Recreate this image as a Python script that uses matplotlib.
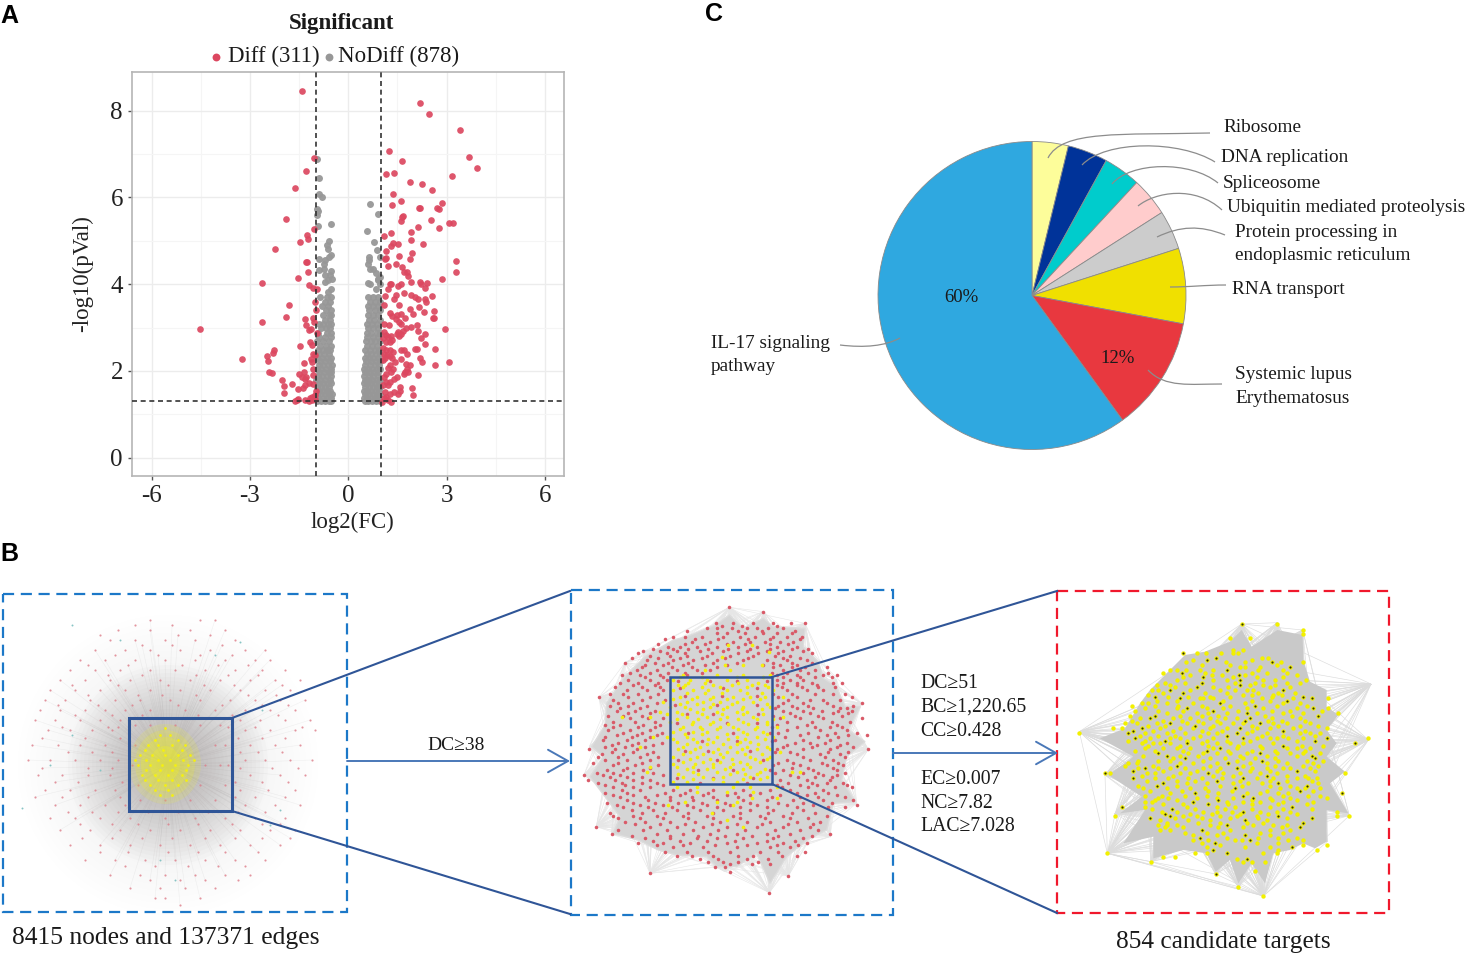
import numpy as np
import matplotlib
matplotlib.use("Agg")
import matplotlib.pyplot as plt
from matplotlib.collections import LineCollection
from matplotlib.patches import Polygon, PathPatch, Rectangle, Circle, Ellipse
from matplotlib.path import Path

plt.rcParams['font.family'] = ['Liberation Serif', 'DejaVu Serif']
plt.rcParams['axes.unicode_minus'] = False

# ---------- A: volcano ----------
RED_LEFT = [(-1.40,8.46),(-1.05,6.91),(-1.30,6.60),(-1.64,6.22),(-1.90,5.51),(-1.06,5.27),(-1.25,5.14),(-1.22,5.05),(-1.48,4.98),(-2.24,4.80),
(-1.28,4.51),(-1.25,4.51),(-1.23,4.28),(-1.54,4.15),(-2.64,4.02),(-1.20,3.98),(-1.07,3.92),(-0.97,3.88),(-1.01,3.59),(-1.82,3.53),(-0.99,3.40),(-1.89,3.25),
(-1.31,3.20),(-2.63,3.13),(-1.08,3.23),(-1.05,3.13),(-1.30,3.05),(-1.21,2.94),(-1.15,2.96),(-4.54,2.97),(-0.97,2.87),(-1.18,2.66),(-1.11,2.60),
(-1.47,2.57),(-2.27,2.48),(-2.29,2.41),(-2.49,2.35),(-3.25,2.27),(-2.45,2.22),(-1.08,2.39),(-1.01,2.37),(-1.13,2.28),(-1.11,2.21),(-1.35,2.18),
(-2.43,1.98),(-2.33,1.95),(-1.08,2.04),(-1.35,1.97),(-1.52,1.92),(-1.09,1.91),(-1.28,1.87),(-1.42,1.86),(-1.33,1.82),(-2.03,1.79),(-1.72,1.70),
(-1.96,1.66),(-1.21,1.72),(-1.33,1.68),(-1.08,1.70),(-1.37,1.60),(-1.54,1.58),(-1.96,1.49),(-0.98,1.55),(-1.01,1.45),(-1.11,1.41),(-1.54,1.36),
(-1.58,1.32),(-1.33,1.33),(-1.21,1.30),(-1.11,1.32),(-1.01,1.35),(-1.62,1.31),(-1.17,1.38)]
RED_RIGHT_TOP = [(2.20,8.17),(2.47,7.92),(3.41,7.56),(1.23,7.07),(3.67,6.94),(1.63,6.84),(3.92,6.68),(1.16,6.54),(1.39,6.57),(3.17,6.49),(1.89,6.35),
(2.24,6.31),(2.55,6.17),(1.37,6.08),(1.60,5.92),(2.86,5.86),(1.33,5.82),(2.15,5.75),(2.20,5.75),(2.70,5.75),(2.76,5.73),(1.68,5.58),(1.64,5.54),
(1.60,5.46),(2.53,5.47),(3.07,5.40),(3.20,5.40),(2.14,5.32),(2.77,5.30),(1.30,5.18),(1.91,5.20),(1.10,5.10),(1.92,5.03),(1.37,4.94),(1.30,4.87),
(1.53,4.93),(2.29,4.93),(1.14,4.76),(1.93,4.73),(1.54,4.64),(1.16,4.61),(1.12,4.57),(1.87,4.58),(3.28,4.54),(1.45,4.46),(1.21,4.41),(1.65,4.39),
(1.80,4.28),(1.70,4.28),(1.82,4.19),(3.28,4.28),(2.86,4.11)]
RED_RIGHT_LOW = [(1.92,4.04),(2.18,4.04),(2.23,4.00),(2.40,4.03),(2.35,3.91),(1.26,4.01),(1.31,4.00),(1.62,4.00),(1.52,3.95),(1.21,3.88),(1.69,3.80),
(1.92,3.75),(2.03,3.71),(2.13,3.65),(1.45,3.75),(1.38,3.67),(2.54,3.72),(2.33,3.67),(2.38,3.59),(1.11,3.72),(1.08,3.52),(1.55,3.52),(2.16,3.48),
(1.87,3.42),(1.97,3.32),(2.31,3.36),(2.60,3.38),(2.58,3.23),(2.61,3.23),(1.28,3.34),(1.34,3.26),(1.47,3.29),(1.62,3.32),(1.72,3.23),(1.45,3.19),
(1.55,3.13),(1.62,3.09),(1.24,3.06),(1.08,3.09),(2.08,3.06),(1.92,3.02),(1.77,2.98),(2.14,2.93),(2.95,2.96),(2.33,2.86),(1.52,2.90),(1.62,2.86),
(1.67,2.92),(1.08,2.90),(1.14,2.83),(1.21,2.79),(1.31,2.80),(1.06,2.75),(1.55,2.80),(1.47,2.86),(2.21,2.75),(1.34,2.71),(1.14,2.67),(1.26,2.67),
(2.35,2.62),(2.04,2.50),(2.11,2.50),(2.65,2.50),(1.62,2.48),(1.70,2.48),(1.06,2.52),(1.14,2.48),(1.26,2.48),(1.36,2.44),(1.79,2.39),(1.09,2.40),
(1.18,2.37),(1.26,2.34),(1.11,2.31),(1.34,2.31),(1.06,2.25),(1.62,2.27),(2.18,2.31),(2.25,2.21),(3.08,2.21),(1.43,2.21),(1.77,2.17),(1.87,2.14),
(2.64,2.14),(1.26,2.14),(1.21,2.06),(1.79,2.05),(1.72,1.98),(1.82,1.98),(1.36,2.04),(1.29,1.98),(1.69,1.92),(2.12,1.90),(1.16,1.93),(1.08,1.87),
(1.49,1.85),(1.38,1.81),(1.26,1.75),(1.14,1.75),(1.06,1.68),(1.21,1.68),(1.57,1.64),(1.57,1.55),(1.95,1.60),(1.96,1.45),(1.38,1.52),(1.28,1.47),
(1.11,1.52),(1.16,1.41),(1.52,1.47),(1.08,1.37),(1.31,1.29),(1.21,1.33),(1.04,1.29)]
GREY_TOP = [(-0.97,6.88),(-0.90,6.45),(-0.91,6.08),(-0.80,6.02),(-0.95,5.74),(-0.92,5.68),(-0.95,5.59),(-0.93,5.34),(-0.52,5.39),(-0.59,4.99),(-0.64,4.90),
(-0.62,4.80),(-0.52,4.68),(-0.60,4.63),(-0.70,4.55),(-0.91,4.57),(-0.74,4.46),(-0.89,4.32),(-0.74,4.34),(-0.54,4.31),(-0.72,4.21),(-0.57,4.21),
(-0.50,4.13),(-0.70,4.05),(-0.62,4.09),(-0.52,3.88),(-0.62,3.82),(0.65,5.85),(0.91,5.61),(0.58,5.23),(0.78,4.97),(0.89,4.78),(0.98,4.63),(0.63,4.63),
(0.63,4.55),(0.61,4.46),(0.67,4.36),(0.75,4.36),(0.83,4.26),(0.98,4.17),(0.91,4.11),(0.60,4.03),(0.67,4.00),(0.90,4.09),(0.96,4.00),(0.85,3.90)]
GREY_ROWS_Y = [1.30,1.38,1.46,1.55,1.63,1.72,1.80,1.88,1.97,2.05,2.14,2.22,2.30,2.40,2.48,2.58,2.68,2.78,2.88,2.98,3.08,3.18,3.28,3.40,3.50,3.60,3.70]
GREY_ROWS_LEFT = [[-.95,-.82,-.70,-.58,-.52],[-.92,-.78,-.64,-.54],[-.97,-.85,-.72,-.60,-.51],[-.90,-.76,-.66,-.55],[-.96,-.84,-.70,-.58],[-.91,-.78,-.62,-.52],
[-.98,-.86,-.72,-.57],[-.93,-.80,-.66,-.53],[-.88,-.74,-.60,-.52],[-.96,-.82,-.68,-.54],[-.91,-.76,-.62,-.51],[-.85,-.70,-.56],[-.95,-.80,-.65,-.52],[-.88,-.74,-.60],
[-.93,-.78,-.65,-.55],[-.85,-.68,-.52],[-.96,-.76,-.60],[-.88,-.70,-.54],[-.94,-.64,-.52],[-.82,-.68,-.56],[-.88,-.78,-.62,-.52],[-.70,-.56],[-.76,-.60,-.52],[-.68,-.54],
[-.80,-.62],[-.72,-.56],[-.85,-.66,-.52]]
GREY_ROWS_RIGHT = [[.50,.60,.72,.85,.96],[.47,.56,.68,.80,.92],[.52,.64,.76,.88,.98],[.48,.58,.70,.84,.95],[.50,.62,.74,.86,.97],[.47,.57,.69,.82,.93],
[.50,.60,.73,.87,.98],[.48,.62,.75,.90],[.52,.64,.78,.92],[.48,.60,.72,.86,.98],[.50,.66,.80,.94],[.54,.68,.84,.96],[.50,.62,.76,.90],[.56,.70,.85,.98],
[.52,.66,.80,.94],[.56,.72,.88],[.54,.68,.82,.97],[.58,.74,.90],[.56,.70,.86,.98],[.60,.76,.92],[.58,.72,.88],[.62,.78,.96],[.60,.74,.90],[.64,.80,.97],
[.60,.76,.92],[.66,.82,.98],[.60,.75,.90]]

# ---------- C: pie ----------
PIE_NAMES = ["Ribosome","DNA replication","Spliceosome","Ubiquitin mediated proteolysis",
             "Protein processing in endoplasmic reticulum","RNA transport","Systemic lupus Erythematosus","IL-17 signaling pathway"]
PIE_VALUES = [3.8,4.2,3.9,4.05,4.1,7.9,12.05,60.0]
PIE_COLORS = ['#fdfd9a','#003399','#00cccc','#ffcccc','#cccccc','#f0e000','#e8383f','#2fa8e0']

# ---------- B: networks, node positions read per row ----------
NET1_RED_Y = [620,630,640,650,660,670,680,690,700,710,720,725,730,745,745,760,765,775,785,790,800,805,818,830,845,860,875,888,898,
              625,635,645,655,665,675,685,695,705,715,727,738,752,768,782,797,812,824,838,852,866,880,905]
NET1_RED_X = [[150,200,215],[118,150,190,225],[110,135,165,195,235],[95,125,150,180,210,245,265],[80,105,135,165,195,225,255,270],
[70,95,120,150,175,205,235,262,285],[60,85,110,130,160,190,220,250,275,300],[50,75,100,125,150,180,210,240,265,290],
[45,65,90,115,140,170,200,230,255,280,305],[40,60,85,105,125,150,185,215,245,270,295],[35,55,80,100,120,240,260,285,310],[135,150,175,200,220],
[48,70,92,112,245,270,295,315],[32,58,80,105,250,275,300],[135,215,225],[28,50,75,100,118,245,265,290,312],[132,205,220,228],[38,62,88,110,250,280,305],
[138,200,225],[45,70,95,115,240,268,295],[140,165,190,215],[55,80,105,125,245,275,300],[50,75,100,130,165,195,225,255,285],
[60,90,120,150,180,210,240,270,295],[70,100,130,160,190,220,250,280],[85,115,145,175,205,235,265],[110,140,165,195,225,250],[130,160,185,215],[155,165,200],
[135,172],[100,178,210],[142,172,222],[115,158,200,232],[88,128,182,218,248],[108,142,196,228,258],[72,118,168,204,234,282],[88,138,162,196,248,276],
[58,98,132,178,222,262,288],[75,112,142,198,232,278],[62,108,118,228,255,302],[42,85,120,238,262,285],[68,92,112,240,258,282],[42,88,112,240,272,298],
[55,78,122,235,262,288],[35,62,88,120,235,255,285],[68,92,118,148,178,208,238,265],[80,112,138,168,198,232,262,280],[82,112,142,172,205,235,262,290],
[100,128,168,198,225,258],[125,155,188,218,245],[150,180,205,238],[180]]
NET1_YEL_Y = [728,735,745,755,765,775,785,795,740,750,760,770,780,790]
NET1_YEL_X = [[165],[160,170],[148,158,172,185],[140,152,165,178,190],[138,150,162,175,188],[142,155,168,182],[150,165,178],[160,172],
              [155,178],[145,163,182],[135,146,158,170,183,194],[146,160,172,186],[145,158,172,186],[155,168]]
NET1_TEAL = [(22,808),(72,735),(50,765),(280,810),(72,625),(120,640),(240,642),(175,880),(160,860),(100,770),(262,710),(270,825),(215,655)]

NET2_RED_Y = [52,65,100,115,130,140,155,170,183,197,210,225,240,255,270,285,300,322,340,355,370,385,405,420,435,450,465,478,492,510,525,540,555,570,585,600,615,630,645,660,677,695,710,733,745,760,772,798,815,830,845,850,858,908,
              108,122,148,162,177,190,204,218,232,248,262,278,292,312,330,348,362,378,395,412,428,442,458,472,485,500,518,533,548,562,578,592,608,622,638,652,668,685,702,720,738,753,766,785,808,822,
              272,295,318,345,372,398,428,452,482,510,540,565,578]
NET2_RED_X = [[478],[580],[437,490,548,608,705,662],[410,440,485,530,560,595,640],[440,470,525,580,620,665],[310,345,395,460,510,555,610,650,695],
[365,420,490,540,585,630,670],[295,330,380,440,505,560,620,680],[220,270,320,390,460,530,590,640,700],[240,300,350,410,480,550,615,660],
[230,310,370,440,520,590,650,710],[225,280,340,405,470,580,630,680],[200,260,320,380,420,640,690,735],[155,210,270,350,620,680,760,800],
[175,240,290,620,660,700],[190,255,620,680,740],[170,230,280,650,710,760],[87,175,240,625,680,845],[145,190,260,640,700,770,875],
[150,210,615,680,730,810,830],[175,240,660,720,790,835],[180,235,280,630,690,760,875],[105,150,220,270,620,710,800],[115,180,240,650,750,830],
[140,200,260,690,770,835,890],[100,170,225,615,700,780],[125,185,250,650,740,810],[58,135,200,620,700,780,895],[95,160,230,680,750,810],
[105,170,240,650,720,790],[130,195,265,610,690,770,820],[110,160,220,640,730,800],[42,100,150,280,660,760,800],[55,135,190,240,630,710,780],
[105,165,280,620,690,740,830],[155,210,310,360,430,520,600,660,760],[130,190,260,330,400,470,540,630,710,800],[170,235,300,370,440,520,590,670,760,850],
[140,210,280,350,410,480,560,650,730,860],[185,250,320,390,460,540,610,700],[130,190,260,340,410,490,570,640,770],[165,225,300,375,450,530,600,680,750],
[79,240,320,400,470,560,640,720],[125,260,340,420,500,590,660,780],[225,300,380,440,520,610,700],[205,280,360,470,560,640,710],[310,400,500,600,660],
[320,365,430,505,550,635,680],[415,460,505,565],[435,465],[480],[240],[655],[598],
[455,515,620],[350,505,575,675],[285,375,445,535,600,690],[265,345,405,470,525,600,655],[250,310,355,415,475,540,600,665,715],[205,290,345,425,505,565,625,725],
[185,265,330,395,465,535,640,690],[165,255,295,355,430,500,610,665,725],[215,305,365,440,610,665,705,770],[180,240,295,345,395,605,650,715,775],
[225,280,640,690,735,785],[150,205,265,640,680,725,790,815],[135,215,270,635,695,745,795],[120,160,205,265,610,665,735,790,825],[130,215,285,655,720,760,810],
[120,175,230,625,665,715,790,850],[140,195,255,640,700,755,805,845],[115,160,215,610,675,745,815],[130,195,255,650,725,785,840],[130,205,255,605,680,735,780,815],
[160,215,275,625,715,795,860],[105,185,240,645,745,805],[145,205,275,675,720,765,830],[105,165,225,640,725,800,850],[125,190,250,615,660,775,835],
[85,145,210,265,700,765,825],[70,145,215,625,670,755,805],[170,240,665,715,790],[80,130,190,250,615,700,745,825],[120,170,215,685,735,785],
[85,155,215,260,655,725,770,820],[130,190,240,635,715,795,845],[105,170,285,345,415,495,570,680,735,775],[150,225,300,365,430,505,605,690,745,825],
[110,190,255,325,395,465,540,625,700,785],[160,235,305,370,440,510,590,680,775,825],[120,215,285,355,430,510,595,665,735],[145,210,280,355,430,510,585,660,715],
[195,270,345,425,500,575,655,730],[145,220,290,370,445,525,615,690,745],[185,300,385,465,545,625,725],[250,330,410,495,590,675],[260,340,435,530,620,685],
[285,350,415,480,570,625,705],[390,445,530,595],[480,545,600],
[325,420,500,590],[330,460,560],[345,455,560],[315,440,560],[350,430,565],[320,470,560],[355,490,600],[395,500,605],[345,415,540],[325,440,580],[385,490,600],[320,430,550],[390,530]]
NET2_YEL_Y = [165,185,200,225,240,255,270,285,300,320,335,350,365,380,395,410,425,440,455,470,485,500,515,530,545,560,575,590,605,625,635,645,670,690,710,
              262,278,292,310,328,342,358,372,388,402,418,432,448,462,478,492,508,522,538,552,568]
NET2_YEL_X = [[475,545],[598],[455],[465,520,575],[405,480],[340,440,520,600],[310,360,410,470,530],[325,345,430,485,545,585],[310,370,415,470,510,610],
[330,380,430,490,540,585,640],[280,350,400,450,500,550],[300,345,420,470,520,600],[270,320,380,440,500,530],[155,240,350,410,470,550,640],[300,370,430,520,590],
[340,390,450,490,560,620],[310,370,410,520,580],[250,290,350,440,500,560,610],[320,380,430,510,540],[210,340,390,480,530,590],[360,430,470,500,630],
[310,380,460,540,600],[340,400,450,510,570],[240,320,370,430,480,540],[230,370,440,500,570,665,690],[340,400,460,540,590],[310,350,460,500],
[320,380,490,540,620],[380,470,550],[545,620],[345,440,500],[295,490],[425],[470],[520],
[330,395,500,580],[355,405,505,565],[340,395,450,530,595],[350,405,455,530,575],[310,365,420,470,520,570],[330,380,430,485,590],[360,400,460,515,575],
[290,335,395,455,520,580],[320,385,450,505,560,610],[365,420,475,535,590],[330,395,440,505,555],[345,395,470,530,590],[310,370,415,475,525,585],
[350,410,460,500,565],[325,375,445,515,560,600],[340,400,450,525,575],[360,420,485,555,590],[310,375,430,490,530],[350,410,465,520,585],[325,385,480,525,560],[370,430,520,570]]
NET2_BODY = [(478,75),(520,115),(580,85),(610,110),(705,115),(700,170),(745,215),(760,265),(800,290),(825,350),(870,350),(835,420),(885,455),(830,500),(815,570),(855,635),(790,640),(770,720),(710,750),(650,800),(600,880),(560,790),(500,830),(440,830),(410,800),(320,795),(265,780),(205,750),(130,730),(150,680),(105,620),(60,560),(100,500),(65,470),(105,405),(110,340),(160,265),(225,200),(310,150),(350,140),(437,105)]
NET2_TIPS = [(478,52),(580,65),(705,100),(800,270),(875,340),(895,478),(860,640),(780,740),(655,858),(598,908),(465,845),(240,850),(125,733),(79,710),(42,555),(58,470),(87,322),(155,255),(225,183),(437,100)]

NET3_Y = [42,60,72,85,130,145,155,170,180,195,210,225,240,255,265,280,295,310,325,340,355,370,385,400,415,430,445,460,475,490,505,520,535,550,565,575,590,605,618,630,645,660,675,690,705,720,730,740,748,755,782,792,830,858,
          120,150,165,188,202,218,232,248,262,273,288,302,318,332,347,362,378,392,408,422,437,452,468,483,497,512,528,543,558,570,583,598,612,625,638,652,668,683,698,712]
NET3_X = [[515,622],[698],[698],[480,540],[340,380,407,452,490,505],[437,577,595],[348,468,525,605,632,698],[570,510,525,660],[300,320,348,390,430,470,565,640],
[360,425,455,508,525,680],[320,430,470,510,580,615,708],[260,300,510,540,580,615],[245,265,300,360,450,495,530,550,640],[235,520,545,610,635],
[330,390,400,430,575,670,725,775],[215,235,290,370,450,525,640,690],[225,320,350,410,460,530,580,680,730,775],[290,380,415,470,530,560,640,700,805],
[210,240,310,360,420,465,500,540,605,690],[165,200,260,300,350,400,450,490,520,570,610,650,720],[130,155,215,270,330,370,420,470,510,560,600,670,770],
[28,175,225,290,345,415,440,500,530,590,690,720,750],[195,240,300,330,370,430,520,560,600,620,655,700,770,895],[215,250,270,300,350,395,440,480,520,610,855],
[225,280,320,360,430,450,500,575,650,680,720],[265,355,400,440,480,530,570,620,660,700,750],[310,345,420,465,520,555,615,735],[175,200,330,370,440,475,540,590,650,730],
[205,225,265,300,345,400,450,500,545,590,640,660,720],[105,120,230,255,330,360,415,460,510,570,620,825],[190,255,295,355,395,455,520,560,610,680,715,740],
[280,350,410,490,535,575,625,745],[220,290,360,405,495,630,680,705,750],[300,375,445,530,570,625,655,815],[265,295,380,440,490,550,600,660,770],
[225,245,370,470,520,570,640,730],[155,225,350,440,495,600,665],[275,320,400,440,485,520,570,620,660,800],[135,300,340,380,450,500,560,625,838,800],
[270,355,420,525,590],[265,290,320,420,470,550,610,650],[270,300,395,480,600,660],[370,440,525,600],[370,415,495,515,540,655,700],[450,700,770],[430,625,740],
[112,375,410,470,580,620],[280,315],[500,530],[243,520,545,585],[555],[437],[505],[580],
[490,520],[370,410,545],[395,480,620],[280,335,405,545,590,650],[340,400,490,560,640],[285,345,395,495,555,650,690],[315,380,430,475,600,660],[280,340,405,470,565,625,675],
[255,295,355,420,480,605,700],[260,320,460,545,600,650],[185,255,325,395,480,555,620,710],[195,265,340,430,505,605,660,755],[180,255,330,395,445,585,665,745],
[185,280,335,385,440,525,595,635,705],[235,285,375,430,545,625,690,745],[190,250,310,395,455,545,640,705],[210,265,315,390,470,575,640,735],[175,225,285,350,410,470,540,680,735],
[235,330,415,505,570,640,695,760],[195,255,340,410,475,545,615,705],[220,290,330,385,510,590,680,725],[205,265,300,400,500,575,625,710,760],[165,250,320,420,520,615,700,745],
[190,280,380,440,540,600,680,735],[215,310,430,490,590,650,705],[230,320,375,440,510,600,650,725],[205,260,320,450,515,600,660,710],[240,335,415,485,590,690,730],
[225,275,345,410,520,640,715,750],[255,320,445,545,605,680],[280,340,415,475,545,625,710],[245,305,375,465,545,640,725],[285,360,425,510,595,680],[240,315,395,480,565,650,725],
[290,385,450,530,580,700],[285,340,445,520,635,690],[345,410,460,570,640],[390,470,565,625,680],[395,435,560,625],[410,525,600,665]]
NET3_BODY = [(515,60),(545,110),(622,60),(698,75),(700,150),(720,215),(770,240),(770,290),(805,315),(770,360),(800,400),(770,440),(825,485),(780,520),(835,610),(770,600),(770,695),(735,715),(700,700),(660,720),(610,730),(585,820),(545,760),(505,820),(480,750),(437,785),(410,730),(340,720),(250,745),(250,680),(160,700),(225,600),(150,610),(215,560),(115,495),(190,440),(90,385),(165,355),(210,280),(240,240),(300,180),(345,135),(405,125),(480,95)]
NET3_TIPS = [(515,42),(622,38),(698,60),(903,222),(895,390),(838,617),(772,695),(580,858),(505,830),(437,792),(243,755),(112,730),(135,612),(105,495),(28,365)]


def rows_to_xy(ys, rows):
    x = np.array([v for r in rows for v in r], float)
    y = np.array([yy for yy, r in zip(ys, rows) for _ in r], float)
    return x, y


def fan(tips, x, y, stride):
    segs = []
    for tx, ty in tips:
        for nx, ny in zip(x[::stride], y[::stride]):
            segs.append([(tx, ty), (nx, ny)])
    return segs


W, H = 1466, 955
fig = plt.figure(figsize=(W / 100, H / 100), dpi=100, facecolor='white')


def px_axes(x0, y0, x1, y1):
    return fig.add_axes([x0 / W, 1 - y1 / H, (x1 - x0) / W, (y1 - y0) / H])


# ---- volcano
ax = px_axes(132, 72, 564, 476)
ax.set_xlim(-6.6, 6.58)
ax.set_ylim(-0.42, 8.89)
ax.set_xticks([-6, -3, 0, 3, 6])
ax.set_yticks([0, 2, 4, 6, 8])
ax.set_xticks([-4.5, -1.5, 1.5, 4.5], minor=True)
ax.set_yticks([1, 3, 5, 7], minor=True)
ax.grid(which='major', color='#ececec', lw=1.0)
ax.grid(which='minor', color='#f5f5f5', lw=0.8)
ax.set_axisbelow(True)
for s in ax.spines.values():
    s.set_color('#b5b5b5')
    s.set_linewidth(1.2)
ax.tick_params(which='minor', length=0)
ax.tick_params(which='major', colors='#555555', labelcolor='#222222', labelsize=18, length=3, width=1, pad=3.5)
gl_x, gl_y = rows_to_xy(GREY_ROWS_Y, GREY_ROWS_LEFT)
gr_x, gr_y = rows_to_xy(GREY_ROWS_Y, GREY_ROWS_RIGHT)
gt = np.array(GREY_TOP)
ax.scatter(np.r_[gl_x, gr_x, gt[:, 0]], np.r_[gl_y, gr_y, gt[:, 1]], s=25, color='#979797', alpha=.95, lw=0, zorder=3)
red = np.array(RED_LEFT + RED_RIGHT_TOP + RED_RIGHT_LOW)
ax.scatter(red[:, 0], red[:, 1], s=23, color='#dc4760', alpha=.92, lw=0, zorder=4)
for v in (-1, 1):
    ax.axvline(v, color='#333333', lw=1.2, ls=(0, (3, 2.2)), zorder=5)
ax.axhline(1.3, color='#333333', lw=1.2, ls=(0, (3, 2.2)), zorder=5)
ax.set_xlabel('log2(FC)', fontsize=16.5, color='#222222')
ax.xaxis.set_label_coords((352 - 132) / 432, -0.088)
ax.set_ylabel('-log10(pVal)', fontsize=16.5, color='#222222')
ax.yaxis.set_label_coords(-0.09, 0.5)

# ---- pie
pax = px_axes(878, 141.5, 1186, 449.5)
pax.pie(PIE_VALUES, colors=PIE_COLORS, startangle=90, counterclock=False, radius=1,
        wedgeprops=dict(edgecolor='#8a8a8a', linewidth=0.6))
pax.set_xlim(-1, 1)
pax.set_ylim(-1, 1)
pax.set_aspect('auto')

# ---- network 1
n1 = px_axes(0, 0, W, H)
n1.set_xlim(0, W)
n1.set_ylim(H, 0)
n1.axis('off')
n1.patch.set_alpha(0)
x1r, y1r = rows_to_xy(NET1_RED_Y, NET1_RED_X)
n1.add_collection(LineCollection([[(168, 765), p] for p in zip(x1r[::2], y1r[::2])], colors='#e4e4e4', lw=.4, alpha=.45, zorder=1))
for r in range(150, 100, -6):
    n1.add_patch(Circle((168, 765), r, color='#aaa6a6', alpha=.006, lw=0, zorder=1))
for r in range(100, 4, -4):
    n1.add_patch(Circle((168, 765), r, color='#8e8888', alpha=.03, lw=0, zorder=1))
n1.scatter(x1r, y1r, s=2.4, color='#dd7c88', alpha=.8, lw=0, zorder=2)
tl = np.array(NET1_TEAL)
n1.scatter(tl[:, 0], tl[:, 1], s=2, color='#88c4c4', lw=0, zorder=2)
for rx, ry, a in [(36, 40, .16), (30, 34, .22), (24, 27, .3), (15, 18, .35)]:
    n1.add_patch(Ellipse((165, 764), 2 * rx, 2 * ry, color='#eeee30', alpha=a, lw=0, zorder=2))
x1y, y1y = rows_to_xy(NET1_YEL_Y, NET1_YEL_X)
n1.scatter(x1y, y1y, s=4, color='#f4f010', lw=0, zorder=3)

# ---- network 2
n2 = px_axes(570, 590, 895, 915)
n2.set_xlim(0, 975)
n2.set_ylim(975, 0)
n2.axis('off')
n2.patch.set_alpha(0)
x2r, y2r = rows_to_xy(NET2_RED_Y, NET2_RED_X)
x2y, y2y = rows_to_xy(NET2_YEL_Y, NET2_YEL_X)
n2.add_collection(LineCollection(fan(NET2_TIPS, x2r, y2r, 17), colors='#e6e6e6', lw=.4, zorder=1))
n2.add_patch(Polygon(NET2_BODY, closed=True, fc='#d5d5d5', ec='#dcdcdc', lw=1, zorder=1.5))
n2.scatter(x2r, y2r, s=6.5, color='#d95a68', lw=0, zorder=3)
n2.scatter(x2y, y2y, s=7, color='#f3ef10', lw=0, zorder=4)

# ---- network 3
n3 = px_axes(1070, 610, 1380, 910)
n3.set_xlim(0, 930)
n3.set_ylim(900, 0)
n3.axis('off')
n3.patch.set_alpha(0)
x3, y3 = rows_to_xy(NET3_Y, NET3_X)
n3.add_collection(LineCollection(fan(NET3_TIPS, x3, y3, 17), colors='#dcdcdc', lw=.45, zorder=1))
n3.add_patch(Polygon(NET3_BODY, closed=True, fc='#c9c9c9', ec='none', zorder=1.5))
n3.scatter(x3, y3, s=10, color='#f2f000', lw=0, zorder=3)
n3.scatter(x3[::6], y3[::6], s=2.5, color='#333300', lw=0, zorder=4)

# ---- overlay: frames, connectors, text
ov = px_axes(0, 0, W, H)
ov.set_xlim(0, W)
ov.set_ylim(H, 0)
ov.axis('off')
ov.patch.set_alpha(0)

BLUE = '#1c78c8'
NAVY = '#2f5597'
dash = (0, (5, 3))
ov.add_patch(Rectangle((3, 594), 344, 318, fill=False, ec=BLUE, lw=1.6, ls=dash))
ov.add_patch(Rectangle((571, 590), 322, 325, fill=False, ec=BLUE, lw=1.6, ls=dash))
ov.add_patch(Rectangle((1057, 591), 332, 322, fill=False, ec='#f0182c', lw=1.6, ls=dash))
ov.add_patch(Rectangle((129, 718), 102.5, 93, fill=False, ec=NAVY, lw=2.2))
ov.add_patch(Rectangle((670, 677), 102, 107, fill=False, ec=NAVY, lw=1.8))
for (a, b) in [((232, 718), (570, 591)), ((232, 811), (570, 914)), ((772, 677), (1057, 591)), ((772, 784), (1057, 913))]:
    ov.plot([a[0], b[0]], [a[1], b[1]], color=NAVY, lw=1.5)
for (a, b) in [((347, 761), (570, 761)), ((893, 753), (1058, 753))]:
    ov.annotate('', xy=b, xytext=a, arrowprops=dict(arrowstyle='->,head_length=0.8,head_width=0.45', color='#4a78b8', lw=1.4, shrinkA=0, shrinkB=0, mutation_scale=18))


def leader(p0, p1, p2, p3):
    ov.add_patch(PathPatch(Path([p0, p1, p2, p3], [Path.MOVETO, Path.CURVE4, Path.CURVE4, Path.CURVE4]), fc='none', ec='#8c8c8c', lw=.9, zorder=6))


leader((1048, 158), (1062, 130), (1120, 135), (1210, 133))
leader((1082, 165), (1105, 140), (1180, 140), (1215, 162))
leader((1112, 184), (1130, 162), (1190, 160), (1218, 183))
leader((1138, 206), (1155, 192), (1195, 185), (1222, 210))
leader((1157, 237), (1180, 226), (1200, 225), (1225, 235))
leader((1170, 287), (1190, 287), (1205, 285), (1226, 285))
leader((1148, 370), (1165, 388), (1190, 384), (1222, 384))
leader((840, 345), (865, 348), (885, 346), (900, 338))

serif = dict(family='Liberation Serif', color='#1a1a1a', va='center')
for s, x, y in [('Ribosome', 1223, 128), ('DNA replication', 1221, 158), ('Spliceosome', 1223, 183),
                ('Ubiquitin mediated proteolysis', 1227, 207), ('Protein processing in', 1235, 232),
                ('endoplasmic reticulum', 1235, 255), ('RNA transport', 1232, 289), ('Systemic lupus', 1235, 374),
                ('Erythematosus', 1235, 398), ('IL-17 signaling', 711, 343), ('pathway', 711, 366)]:
    ov.text(x, y, s, fontsize=13.9, **serif)
ov.text(961, 297, '60%', fontsize=13.5, ha='center', **serif)
ov.text(1118, 358, '12%', fontsize=13.5, ha='center', **serif)

ov.text(342, 23, 'Significant', fontsize=16.5, ha='center', fontweight='bold', **serif)
ov.scatter([216], [57], s=32, color='#dc4760', lw=0)
ov.scatter([329], [57], s=32, color='#979797', lw=0)
ov.text(228, 56, 'Diff (311)', fontsize=16.5, **serif)
ov.text(338, 56, 'NoDiff (878)', fontsize=16.5, **serif)

ov.text(456, 745, 'DC≥38', fontsize=14, ha='center', **serif)
for s, y in [('DC≥51', 683), ('BC≥1,220.65', 707), ('CC≥0.428', 731), ('EC≥0.007', 779), ('NC≥7.82', 803), ('LAC≥7.028', 826)]:
    ov.text(920, y, s, fontsize=14.2, **serif)
ov.text(12, 938, '8415 nodes and 137371 edges', fontsize=18.4, **serif)
ov.text(1223, 942, '854 candidate targets', fontsize=18.3, ha='center', **serif)

for s, x, y in [('A', 9, 16), ('B', 9, 554), ('C', 714, 14)]:
    ov.text(x, y, s, fontsize=18, fontweight='bold', family='Liberation Sans', ha='center', va='center', color='black')

fig.savefig('out.png', dpi=100)
